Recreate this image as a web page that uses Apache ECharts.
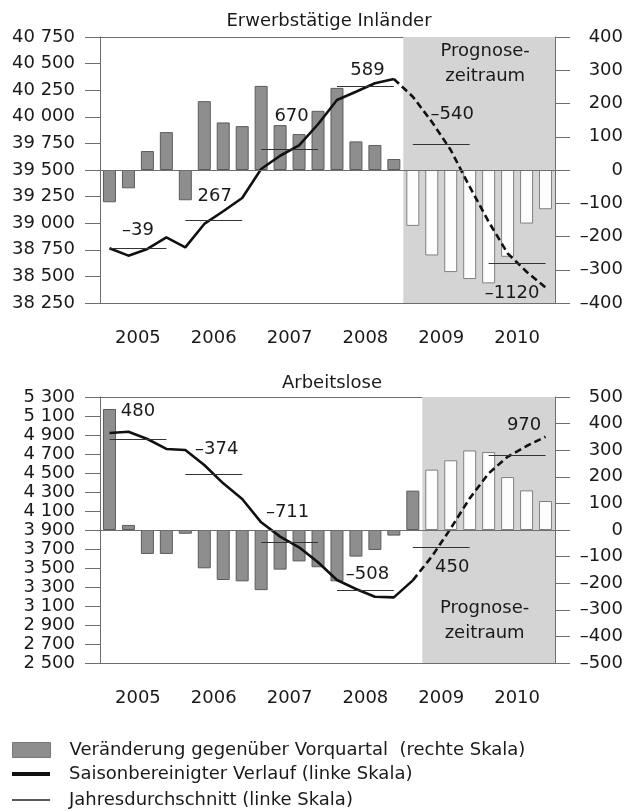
<!DOCTYPE html>
<html>
<head>
<meta charset="utf-8">
<script src="https://cdn.jsdelivr.net/npm/echarts@6/dist/echarts.min.js"></script>
<style>
html, body { margin: 0; padding: 0; background: #fff; }
#chart { width: 640px; height: 812px; }
</style>
</head>
<body>
<div id="chart"></div>
<script>
// categories
var quarters = [
  "2005Q1", "2005Q2", "2005Q3", "2005Q4",
  "2006Q1", "2006Q2", "2006Q3", "2006Q4",
  "2007Q1", "2007Q2", "2007Q3", "2007Q4",
  "2008Q1", "2008Q2", "2008Q3", "2008Q4",
  "2009Q1", "2009Q2", "2009Q3", "2009Q4",
  "2010Q1", "2010Q2", "2010Q3", "2010Q4"
];
var years = ["2005", "2006", "2007", "2008", "2009", "2010"];

// Erwerbstätige Inländer
var empChange = [-97, -55, 57, 114, -91, 207, 143, 132, 253, 135, 108, 178,
  247, 86, 75, 33, -168, -257, -307, -328, -341, -261, -161, -118];
var empLevel = [38764, 38695, 38758, 38867, 38773, 38993, 39112, 39237, 39509, 39634, 39732, 39930,
  40158, 40236, 40315, 40355, 40189, 39954, 39688, 39343, 39014, 38717, 38544, 38397];
var empAvg = [38760, 39027, 39697, 40286, 39746, 38626];
var empAvgChange = [-39, 267, 670, 589, -540, -1120];
var empForecastFrom = "2009Q1";
var empLeftTicks = [38250, 38500, 38750, 39000, 39250, 39500, 39750, 40000, 40250, 40500, 40750];
var empRightTicks = [-400, -300, -200, -100, 0, 100, 200, 300, 400];

// Arbeitslose
var uneChange = [455, 19, -90, -90, -14, -144, -188, -193, -226, -149, -118, -140,
  -193, -100, -75, -21, 148, 227, 262, 299, 293, 199, 149, 109];
var uneLevel = [4921, 4935, 4858, 4753, 4742, 4584, 4391, 4226, 3981, 3830, 3718, 3560,
  3374, 3279, 3198, 3191, 3370, 3620, 3917, 4233, 4496, 4671, 4784, 4882];
var uneAvg = [4860, 4486, 3775, 3267, 3717, 4687];
var uneAvgChange = [480, -374, -711, -508, 450, 970];
var uneForecastFrom = "2009Q2";
var uneLeftTicks = [2500, 2700, 2900, 3100, 3300, 3500, 3700, 3900, 4100, 4300, 4500, 4700, 4900, 5100, 5300];
var uneRightTicks = [-500, -400, -300, -200, -100, 0, 100, 200, 300, 400, 500];

var barName = "Veränderung gegenüber Vorquartal  (rechte Skala)";
var lineName = "Saisonbereinigter Verlauf (linke Skala)";
var avgName = "Jahresdurchschnitt (linke Skala)";

// label nudges for the yearly change labels [dx, dy]
var empLabelOffsets = [[0, -9], [1, -15], [2, -24], [2, -7], [11, -20], [-5, 39]];
var uneLabelOffsets = [[0, -18], [3, -16], [-2, -21], [2, -7], [11, 29], [7, -21]];

var FONT = '"DejaVu Sans", sans-serif';
var TXT = "#1a1a1a";
var AX = "#6e6e6e";
var FS = 18;

function fmtThousands(v) {
  var s = String(Math.abs(v));
  if (s.length > 3) s = s.slice(0, -3) + " " + s.slice(-3);
  return (v < 0 ? "\u2013" : "") + s;
}
function fmtSigned(v) {
  return (v < 0 ? "\u2013" : "") + Math.abs(v);
}

function buildAxes(g, leftTicks, rightTicks) {
  var xs = [
    {
      type: "category", gridIndex: g, data: quarters, position: "bottom",
      axisLine: { lineStyle: { color: AX, width: 1 } },
      axisTick: { length: 12, lineStyle: { color: AX } },
      axisLabel: { show: false }, splitLine: { show: false }
    },
    {
      type: "category", gridIndex: g, data: years, position: "bottom",
      axisLine: { lineStyle: { color: AX, width: 1 } },
      axisTick: { length: 22, lineStyle: { color: AX } },
      axisLabel: { margin: 26, fontSize: FS, color: TXT, fontFamily: FONT },
      splitLine: { show: false }
    },
    {
      type: "value", gridIndex: g, min: 0, max: quarters.length, position: "top",
      axisLine: { show: true, lineStyle: { color: AX, width: 1 } },
      axisTick: { show: false }, axisLabel: { show: false }, splitLine: { show: false }
    }
  ];
  var ys = [
    {
      type: "value", gridIndex: g, position: "left",
      min: leftTicks[0], max: leftTicks[leftTicks.length - 1],
      axisLine: { show: true, lineStyle: { color: AX, width: 1 } },
      axisTick: { show: true, length: 15, customValues: leftTicks, lineStyle: { color: AX } },
      axisLabel: { customValues: leftTicks, formatter: fmtThousands, margin: 25,
        fontSize: FS, color: TXT, fontFamily: FONT },
      splitLine: { show: false }
    },
    {
      type: "value", gridIndex: g, position: "right",
      min: rightTicks[0], max: rightTicks[rightTicks.length - 1],
      axisLine: { show: true, lineStyle: { color: AX, width: 1 } },
      axisTick: { show: true, length: 15, customValues: rightTicks, lineStyle: { color: AX } },
      axisLabel: { customValues: rightTicks, formatter: fmtSigned, margin: 68, align: "right",
        fontSize: FS, color: TXT, fontFamily: FONT },
      splitLine: { show: false }
    }
  ];
  return { xs: xs, ys: ys };
}

function buildSeries(g, change, level, avg, avgChange, forecastFrom, offsets, prognoseLabel) {
  var fs = quarters.indexOf(forecastFrom);
  var xq = 3 * g, xv = 3 * g + 2, yl = 2 * g, yr = 2 * g + 1;
  var avgLines = years.map(function (y, i) {
    return [
      {
        coord: [quarters[i * 4], avg[i]],
        label: { show: true, position: "middle", distance: 0, offset: offsets[i],
          formatter: fmtSigned(avgChange[i]), fontSize: FS, color: TXT, fontFamily: FONT }
      },
      { coord: [quarters[i * 4 + 3], avg[i]] }
    ];
  });
  return [
    {
      type: "line", xAxisIndex: xv, yAxisIndex: yl, data: [], silent: true, z: 0,
      markArea: {
        silent: true,
        itemStyle: { color: "#d4d4d4" },
        label: prognoseLabel,
        data: [[{ xAxis: fs }, { xAxis: quarters.length }]]
      }
    },
    {
      name: barName, type: "bar", xAxisIndex: xq, yAxisIndex: yr, barWidth: 13, z: 2,
      itemStyle: { color: "#8e8e8e", borderColor: "#5c5c5c", borderWidth: 1 },
      data: change.map(function (v, i) {
        return i >= fs ? { value: v, itemStyle: { color: "#fdfdfd", borderColor: "#808080" } } : v;
      }),
      markLine: {
        silent: true, symbol: "none", label: { show: false },
        lineStyle: { color: AX, width: 1, type: "solid" },
        data: [{ yAxis: 0 }]
      }
    },
    {
      name: lineName, type: "line", xAxisIndex: xq, yAxisIndex: yl, symbol: "none", z: 4,
      itemStyle: { color: "#111" },
      lineStyle: { color: "#111", width: 2.6 },
      data: level.map(function (v, i) { return i <= fs - 1 ? v : null; })
    },
    {
      name: "Prognose", type: "line", xAxisIndex: xq, yAxisIndex: yl, symbol: "none", z: 4,
      lineStyle: { color: "#111", width: 2.6, type: [7, 4] },
      data: level.map(function (v, i) { return i >= fs - 1 ? v : null; })
    },
    {
      name: avgName, type: "line", xAxisIndex: xq, yAxisIndex: yl, data: [], z: 3,
      itemStyle: { color: "#222" },
      markLine: {
        silent: true, symbol: "none",
        lineStyle: { color: "#333", width: 1.2, type: "solid" },
        data: avgLines
      }
    }
  ];
}

var a0 = buildAxes(0, empLeftTicks, empRightTicks);
var a1 = buildAxes(1, uneLeftTicks, uneRightTicks);

var progTop = { show: true, position: "insideTop", distance: 2, offset: [6, 0],
  formatter: "Prognose-\nzeitraum", fontSize: FS, lineHeight: 25, color: TXT, fontFamily: FONT, align: "center" };
var progBottom = { show: true, position: "insideBottom", distance: 17, offset: [-4, 0],
  formatter: "Prognose-\nzeitraum", fontSize: FS, lineHeight: 25, color: TXT, fontFamily: FONT, align: "center" };

var legendText = { fontSize: 18, color: TXT, fontFamily: FONT, padding: [0, 0, 0, 14] };

var option = {
  animation: false,
  backgroundColor: "#fff",
  title: [
    { text: "Erwerbstätige Inländer", left: 324, top: 7, textAlign: "center",
      textStyle: { fontSize: FS, fontWeight: "normal", color: TXT, fontFamily: FONT } },
    { text: "Arbeitslose", left: 327, top: 369, textAlign: "center",
      textStyle: { fontSize: FS, fontWeight: "normal", color: TXT, fontFamily: FONT } }
  ],
  grid: [
    { left: 100, right: 85, top: 37, height: 266 },
    { left: 100, right: 85, top: 397, height: 266 }
  ],
  xAxis: a0.xs.concat(a1.xs),
  yAxis: a0.ys.concat(a1.ys),
  legend: [
    { data: [{ name: barName, icon: "rect" }], left: 7, top: 736, itemWidth: 38, itemHeight: 15,
      selectedMode: false, itemStyle: { borderColor: "#777", borderWidth: 1 }, textStyle: legendText },
    { data: [{ name: lineName, icon: "rect" }], left: 7, top: 760, itemWidth: 38, itemHeight: 4,
      selectedMode: false, textStyle: legendText },
    { data: [{ name: avgName, icon: "rect" }], left: 7, top: 786, itemWidth: 38, itemHeight: 1.5,
      selectedMode: false, textStyle: legendText }
  ],
  series: buildSeries(0, empChange, empLevel, empAvg, empAvgChange, empForecastFrom, empLabelOffsets, progTop)
    .concat(buildSeries(1, uneChange, uneLevel, uneAvg, uneAvgChange, uneForecastFrom, uneLabelOffsets, progBottom))
};

var myChart = echarts.init(document.getElementById("chart"));
myChart.setOption(option);
</script>
</body>
</html>
